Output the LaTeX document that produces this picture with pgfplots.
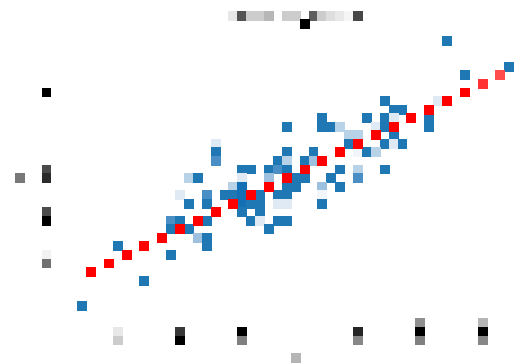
\documentclass[border=0pt]{standalone}
\usepackage{pgfplots}
\pgfplotsset{compat=1.18}
\definecolor{cB}{HTML}{1F77B4}
\definecolor{cBD}{HTML}{1470B4}
\definecolor{cM}{HTML}{4A8EC6}
\definecolor{cLM}{HTML}{9CC0DE}
\definecolor{cL}{HTML}{B8D2E8}
\definecolor{cVL}{HTML}{DFEAF5}
\definecolor{cF}{HTML}{F2F6FA}
\definecolor{cR}{HTML}{FF0000}
\definecolor{cRa}{HTML}{FF3333}
\definecolor{cRb}{HTML}{FF4D4D}
\colorlet{g00}{black}
\colorlet{g25}{black!85}
\colorlet{g2a}{black!83}
\colorlet{g38}{black!78}
\colorlet{g48}{black!72}
\colorlet{g4a}{black!71}
\colorlet{g4d}{black!70}
\colorlet{g55}{black!67}
\colorlet{g5f}{black!63}
\colorlet{g70}{black!56}
\colorlet{g77}{black!53}
\colorlet{g80}{black!50}
\colorlet{g88}{black!47}
\colorlet{g90}{black!44}
\colorlet{gb4}{black!29}
\colorlet{gb8}{black!28}
\colorlet{gcc}{black!20}
\colorlet{gdd}{black!13}
\colorlet{ge8}{black!9}
\colorlet{gf2}{black!5}
\colorlet{gf5}{black!4}
\begin{document}
\begin{tikzpicture}
\path[use as bounding box] (0,0) rectangle (519pt,363pt);
\begin{axis}[at={(0,0)}, anchor=south west, scale only axis,
  width=519pt, height=363pt,
  xmin=-1.6854, xmax=56.629, ymin=-1.2865, ymax=41.170,
  y dir=reverse, hide axis, clip=false,
  every mark/.append style={yscale=0.956, line width=0.1pt}]
\addplot[scatter, only marks, mark=square*, mark size=4.45pt,
  scatter src=explicit symbolic,
  scatter/classes={
    B={fill=cB,draw=cB}, BD={fill=cBD,draw=cBD}, M={fill=cM,draw=cM},
    LM={fill=cLM,draw=cLM}, L={fill=cL,draw=cL}, VL={fill=cVL,draw=cVL},
    F={fill=cF,draw=cF}, R={fill=cR,draw=cR}, Ra={fill=cRa,draw=cRa},
    Rb={fill=cRb,draw=cRb},
    g00={fill=g00,draw=g00}, g25={fill=g25,draw=g25},
    g2a={fill=g2a,draw=g2a}, g38={fill=g38,draw=g38},
    g48={fill=g48,draw=g48}, g4a={fill=g4a,draw=g4a},
    g4d={fill=g4d,draw=g4d}, g55={fill=g55,draw=g55},
    g5f={fill=g5f,draw=g5f}, g70={fill=g70,draw=g70},
    g77={fill=g77,draw=g77}, g80={fill=g80,draw=g80},
    g88={fill=g88,draw=g88}, g90={fill=g90,draw=g90},
    gb4={fill=gb4,draw=gb4}, gb8={fill=gb8,draw=gb8},
    gcc={fill=gcc,draw=gcc}, gdd={fill=gdd,draw=gdd},
    ge8={fill=ge8,draw=ge8}, gf2={fill=gf2,draw=gf2},
    gf5={fill=gf5,draw=gf5}}]
table[x expr=\thisrow{c}+0.5, y expr=\thisrow{r}+0.5, meta=k] {
c r k
24 0 ge8
25 0 g55
26 0 gcc
27 0 gcc
28 0 gb8
30 0 gcc
31 0 gcc
33 0 g5f
34 0 gcc
35 0 gdd
36 0 ge8
37 0 gf5
38 0 g48
32 1 g00
3 9 g00
3 18 g4a
3 19 g2a
0 19 g77
3 23 g4d
3 24 g00
3 28 gf2
3 29 g70
11 37 ge8
11 38 gcc
18 37 g38
18 38 g00
25 37 g00
25 38 g80
31 40 gb4
38 37 g25
38 38 g88
45 36 g90
45 37 g00
45 38 g80
52 36 gb4
52 37 g00
52 38 g88
48 3 B
55 6 B
50 7 B
41 10 B
47 10 VL
42 11 B
43 11 B
34 12 B
39 12 B
41 12 B
42 12 VL
46 12 B
30 13 B
34 13 B
35 13 B
36 13 L
40 13 VL
41 13 B
46 13 B
37 14 L
38 14 L
42 14 B
22 15 VL
37 15 B
41 15 B
42 15 VL
43 15 B
22 16 B
30 16 B
33 16 B
38 16 F
39 16 B
40 16 L
22 17 M
29 17 B
30 17 L
32 17 B
33 17 LM
25 18 B
26 18 B
28 18 B
29 18 M
30 18 B
36 18 B
38 18 L
41 18 B
19 19 L
20 19 B
25 19 VL
28 19 LM
31 19 B
32 19 B
35 19 B
38 19 M
24 20 L
25 20 BD
30 20 B
31 20 B
34 20 LM
36 20 B
18 21 VL
21 21 M
23 21 B
24 21 B
25 21 BD
27 21 B
29 21 B
30 21 B
34 21 F
19 22 B
21 22 B
25 22 BD
26 22 B
27 22 B
29 22 VL
30 22 VL
34 22 B
25 23 B
27 23 B
17 24 M
18 24 B
21 24 B
26 24 B
27 24 VL
29 24 B
30 24 B
17 25 B
19 25 B
28 25 B
20 26 LM
21 26 B
11 27 B
21 27 B
17 28 B
14 31 B
7 34 B
8 30 R
10 29 R
12 28 R
14 27 R
16 26 R
18 25 R
20 24 R
22 23 R
24 22 R
26 21 R
28 20 R
30 19 R
32 18 R
34 17 R
36 16 R
38 15 R
40 14 R
42 13 R
44 12 R
46 11 R
48 10 R
50 9 R
52 8 Ra
54 7 Rb
};
\end{axis}
\end{tikzpicture}
\end{document}
